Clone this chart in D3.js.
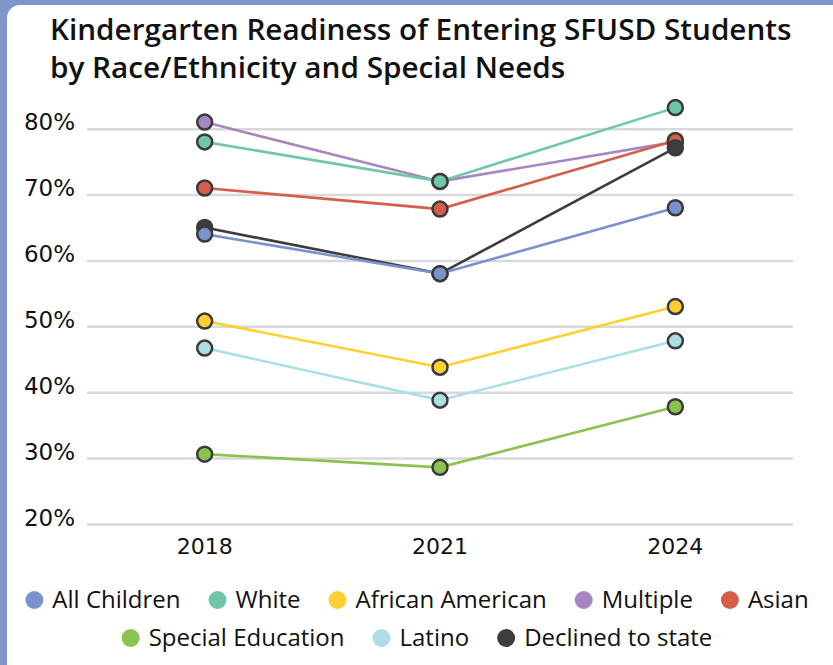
<!DOCTYPE html>
<html lang="en">
<head>
    <meta charset="UTF-8">
    <title>Kindergarten Readiness</title>
    <script src="https://d3js.org/d3.v7.min.js"></script>
    <style>
        body { margin: 0; background: #7f96cb; }
        svg { display: block; }
    </style>
</head>
<body>
    <div id="chart"></div>
    <script>
        // data
        const years = ['2018', '2021', '2024'];
        const seriesNames = ['All Children', 'White', 'African American', 'Multiple', 'Asian',
                             'Special Education', 'Latino', 'Declined to state'];
        const seriesColors = ['#7b93cb', '#6fc6a9', '#ffd02f', '#a687c1', '#d35f4b',
                              '#8bc34f', '#abdfe3', '#3d3d3d'];
        const allChildren = [64, 58, 68];
        const white = [78, 72, 83.2];
        const africanAmerican = [50.8, 43.8, 53];
        const multiple = [81, 72, 78];
        const asian = [71, 67.8, 78.2];
        const specialEd = [30.6, 28.6, 37.8];
        const latino = [46.7, 38.8, 47.8];
        const declined = [65, 58, 77.1];
        const yTicks = [20, 30, 40, 50, 60, 70, 80];
        const titleLines = ['Kindergarten Readiness of Entering SFUSD Students',
                            'by Race/Ethnicity and Special Needs'];
        const legendRows = [[0, 1, 2, 3, 4], [5, 6, 7]];

        const values = [allChildren, white, africanAmerican, multiple, asian, specialEd, latino, declined];
        const series = seriesNames.map((name, i) => ({ name, color: seriesColors[i], values: values[i] }));
        // drawing order for the markers (later ones sit on top)
        const drawOrder = [3, 5, 6, 2, 4, 7, 0, 1];

        const W = 833, H = 665;
        const svg = d3.select('#chart').append('svg')
            .attr('width', W).attr('height', H);

        // white card on the blue frame
        svg.append('rect')
            .attr('x', 7).attr('y', 5)
            .attr('width', 840).attr('height', 700)
            .attr('rx', 13)
            .attr('fill', '#ffffff');

        const roundFont = '"Open Sans", Lato, sans-serif';
        const axisFont = '"DejaVu Sans", sans-serif';

        const title = svg.append('g').selectAll('text')
            .data(titleLines)
            .join('text')
            .attr('x', 50)
            .attr('y', (d, i) => 40 + i * 38)
            .attr('font-family', roundFont)
            .attr('font-weight', 600)
            .attr('font-size', 26)
            .attr('fill', '#111')
            .text(d => d);
        // fit the first title line to the reference width
        const tw = title.node().getComputedTextLength();
        title.attr('font-size', 26 * 742 / tw);

        const x = d3.scaleBand().domain(years).range([87, 793]);
        const y = d3.scaleLinear().domain([20, 80]).range([524, 128.7]);
        const cx = d => x(d) + x.bandwidth() / 2;

        // gridlines + y labels
        const yAxis = svg.append('g')
            .attr('transform', 'translate(87,0)')
            .call(d3.axisLeft(y).tickValues(yTicks).tickSize(-706).tickFormat(d => d + '%'));
        yAxis.select('.domain').remove();
        yAxis.selectAll('.tick line').attr('stroke', '#d9d9d9').attr('stroke-width', 2.5);
        yAxis.selectAll('.tick text')
            .attr('x', -12).attr('dy', '0.05em')
            .attr('font-family', axisFont).attr('font-size', 23).attr('fill', '#111');

        const xAxis = svg.append('g')
            .attr('transform', 'translate(0,524)')
            .call(d3.axisBottom(x).tickSize(0).tickPadding(14));
        xAxis.select('.domain').remove();
        xAxis.selectAll('.tick text')
            .attr('font-family', axisFont).attr('font-size', 22).attr('fill', '#111');

        const line = d3.line()
            .x((d, i) => cx(years[i]))
            .y(d => y(d));

        svg.append('g').selectAll('path')
            .data(drawOrder.map(i => series[i]))
            .join('path')
            .attr('d', d => line(d.values))
            .attr('fill', 'none')
            .attr('stroke', d => d.color)
            .attr('stroke-width', 2.6);

        drawOrder.forEach(i => {
            const s = series[i];
            svg.append('g').selectAll('circle')
                .data(s.values)
                .join('circle')
                .attr('cx', (d, j) => cx(years[j]))
                .attr('cy', d => y(d))
                .attr('r', 7.5)
                .attr('fill', s.color)
                .attr('stroke', '#3a3a3a')
                .attr('stroke-width', 2.5);
        });

        // legend, each row centred
        const legendY = [600, 638];
        const legendCenter = 417;
        legendRows.forEach((row, r) => {
            const g = svg.append('g');
            const items = g.selectAll('g')
                .data(row.map(i => series[i]))
                .join('g');
            items.append('circle')
                .attr('r', 9)
                .attr('fill', d => d.color);
            items.append('text')
                .attr('x', 18)
                .attr('dy', '0.35em')
                .attr('font-family', roundFont)
                .attr('font-size', 24)
                .attr('fill', '#111')
                .text(d => d.name);
            let pos = 0;
            const offsets = [];
            items.each(function () {
                offsets.push(pos);
                const w = d3.select(this).select('text').node().getComputedTextLength();
                pos += 9 + 18 + w + 28;
            });
            const total = pos - 28;
            const start = legendCenter - total / 2 + 9;
            items.attr('transform', (d, i) => `translate(${start + offsets[i]},${legendY[r]})`);
        });
    </script>
</body>
</html>
